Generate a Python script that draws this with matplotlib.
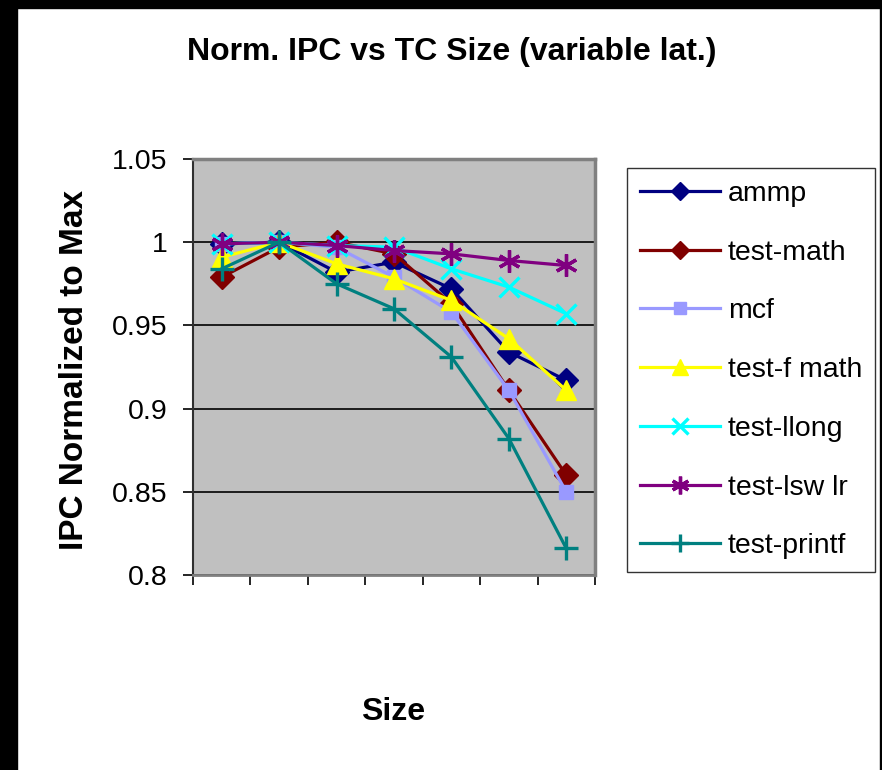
import matplotlib
matplotlib.use("Agg")
import matplotlib.pyplot as plt
from matplotlib.patches import Rectangle
from matplotlib.ticker import FixedLocator, NullFormatter

plt.rcParams['font.family'] = ['Liberation Sans', 'DejaVu Sans']

sizes = [1, 2, 3, 4, 5, 6, 7]
ammp = [0.999, 1.000, 0.982, 0.988, 0.972, 0.934, 0.917]
test_math = [0.979, 0.997, 1.000, 0.993, 0.963, 0.911, 0.860]
mcf = [0.999, 1.000, 0.997, 0.979, 0.958, 0.911, 0.850]
test_fmath = [0.991, 1.000, 0.987, 0.978, 0.965, 0.942, 0.911]
test_llong = [0.999, 1.000, 0.998, 0.997, 0.984, 0.973, 0.957]
test_lswlr = [0.999, 1.000, 0.998, 0.995, 0.993, 0.989, 0.986]
test_printf = [0.984, 1.000, 0.975, 0.960, 0.931, 0.882, 0.816]

series = [
    ("ammp", ammp, "#000080", "D", 12),
    ("test-math", test_math, "#800000", "D", 12),
    ("mcf", mcf, "#9999FF", "s", 10),
    ("test-fmath", test_fmath, "#FFFF00", "^", 14),
    ("test-llong", test_llong, "#00FFFF", "x", 14),
    ("test-lswlr", test_lswlr, "#800080", "*", 16),
    ("test-printf", test_printf, "#008080", "+", 17),
]
legend_labels = ["ammp", "test-math", "mcf", "test-f math", "test-llong", "test-lsw lr", "test-printf"]

W, H = 882, 770
fig = plt.figure(figsize=(W / 100, H / 100), dpi=100)
fig.patch.set_facecolor("white")

# black frame
fig.patches.append(Rectangle((0, 0), 17 / W, 1, transform=fig.transFigure, color="black", zorder=0))
fig.patches.append(Rectangle((0, 1 - 8 / H), 1, 8 / H, transform=fig.transFigure, color="black", zorder=0))
fig.patches.append(Rectangle((880 / W, 0), 2 / W, 1, transform=fig.transFigure, color="black", zorder=0))

left, right, top, bottom = 193, 595, 159, 575
ax = fig.add_axes([left / W, 1 - bottom / H, (right - left) / W, (bottom - top) / H])
ax.set_facecolor("#C0C0C0")

handles = []
for (name, vals, col, mk, ms), lab in zip(series, legend_labels):
    if mk in ("x", "+", "*"):
        if mk == "*":
            mk = (6, 2, 0)
        (h,) = ax.plot(sizes, vals, color=col, marker=mk, markersize=ms,
                       markeredgewidth=2.4, linewidth=2.3, label=lab, clip_on=False)
    else:
        (h,) = ax.plot(sizes, vals, color=col, marker=mk, markersize=ms,
                       markeredgecolor=col, markerfacecolor=col, linewidth=2.3,
                       label=lab, clip_on=False)
    handles.append(h)

ax.set_xlim(0.5, 7.5)
ax.set_ylim(0.8, 1.05)
ax.set_yticks([0.8, 0.85, 0.9, 0.95, 1.0, 1.05])
ax.set_yticklabels(["0.8", "0.85", "0.9", "0.95", "1", "1.05"])
ax.yaxis.grid(True, color="black", linewidth=1.2)
ax.set_axisbelow(True)
ax.xaxis.set_major_locator(FixedLocator([0.5 + i for i in range(8)]))
ax.xaxis.set_major_formatter(NullFormatter())
ax.tick_params(axis="y", labelsize=20.5, length=7.2, width=1.2, direction="out", pad=11, color="black")
ax.tick_params(axis="x", length=7, width=1.2, direction="out", color="black")

for s in ["top", "right"]:
    ax.spines[s].set_color("#808080")
    ax.spines[s].set_linewidth(2.5)
ax.spines["left"].set_color("#303030")
ax.spines["left"].set_linewidth(1.5)
ax.spines["bottom"].set_color("#808080")
ax.spines["bottom"].set_linewidth(2.0)

fig.text(452 / W, 1 - 52 / H, "Norm. IPC vs TC Size (variable lat.)", ha="center", va="center",
         fontsize=23, fontweight="bold")
fig.text(75 / W, 1 - 370 / H, "IPC Normalized to Max", ha="center", va="center",
         rotation=90, fontsize=24, fontweight="bold")
fig.text(393 / W, 1 - 712 / H, "Size", ha="center", va="center", fontsize=23, fontweight="bold")

leg = fig.legend(handles, legend_labels, loc="upper left",
                 bbox_to_anchor=(627 / W, 1 - 168 / H), fontsize=20.5,
                 frameon=True, fancybox=False, edgecolor="black", borderpad=0.45,
                 labelspacing=1.15, handlelength=2.8, handletextpad=0.3, markerscale=0.8,
                 borderaxespad=0)
leg.get_frame().set_linewidth(1.0)

fig.savefig("out.png", dpi=100, facecolor="white")
